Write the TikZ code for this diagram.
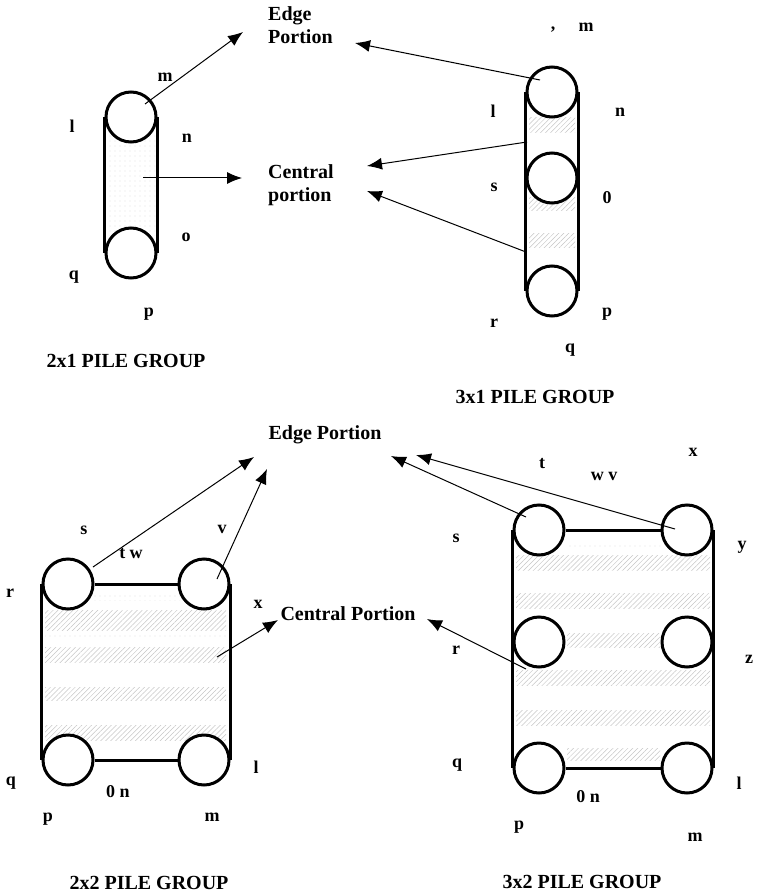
\documentclass[tikz,border=0pt]{standalone}
\usepackage{fontspec}
\setmainfont{Liberation Serif}
\usetikzlibrary{patterns.meta,arrows.meta}

\tikzset{
  pile/.style={circle, draw, line width=3pt, fill=white, minimum size=50pt, inner sep=0pt},
  rail/.style={line width=3pt},
  lbl/.style={font=\fontsize{18}{21}\selectfont\bfseries, inner sep=0pt},
  head/.style={font=\fontsize{20}{23}\selectfont\bfseries, inner sep=0pt},
  headblock/.style={head, align=left, anchor=west},
  hatchband/.style={pattern={Lines[angle=45, distance=3.5pt, line width=0.5pt]}, pattern color=gray!45},
  dotband/.style={pattern={Dots[distance=5pt, radius=0.4pt]}, pattern color=gray!70},
  pointer/.style={line width=1pt, -{Latex[length=15pt, width=12pt]}},
}

\begin{document}
\begin{tikzpicture}[x=1pt, y=-1pt]
      \useasboundingbox (0, 0) rectangle (756, 896);

      % shaded bands
      \fill[dotband] (108, 135) rectangle (155, 235);
      \foreach \ya/\yb in {118/133, 197/210, 233/247}
        \fill[hatchband] (529, \ya) rectangle (575, \yb);
      \foreach \ya/\yb in {610/630, 647/662, 687/700, 725/740}
        \fill[hatchband] (45, \ya) rectangle (226, \yb);
      \fill[dotband] (92, 593) rectangle (180, 600);
      \fill[dotband] (45, 633) rectangle (226, 637);
      \foreach \ya/\yb in {555/570, 593/608, 670/685, 710/725}
        \fill[hatchband] (516, \ya) rectangle (710, \yb);
      \fill[hatchband] (567, 633) rectangle (660, 647);
      \fill[hatchband] (567, 748) rectangle (660, 760);
      \fill[dotband] (567, 543) rectangle (660, 548);

      % 2x1 group
      \node[pile] (a1) at (131, 117) {};
      \node[pile] (a2) at (131, 253) {};
      \draw[rail] (a1.west) -- (a2.west);
      \draw[rail] (a1.east) -- (a2.east);

      % 3x1 group
      \node[pile] (b1) at (552, 92) {};
      \node[pile] (b2) at (552, 178) {};
      \node[pile] (b3) at (552, 291) {};
      \draw[rail] (b1.west) -- (b3.west);
      \draw[rail] (b1.east) -- (b3.east);

      % 2x2 group
      \node[pile] (c1) at (68, 584) {};
      \node[pile] (c2) at (204, 584) {};
      \node[pile] (c3) at (68, 760) {};
      \node[pile] (c4) at (204, 760) {};
      \draw[rail] (c1.west) -- (c3.west);
      \draw[rail] (c2.east) -- (c4.east);
      \draw[rail] (c1) -- (c2);
      \draw[rail] (c3) -- (c4);

      % 3x2 group
      \node[pile] (d1) at (539, 530) {};
      \node[pile] (d2) at (687, 530) {};
      \node[pile] (d3) at (539, 642) {};
      \node[pile] (d4) at (687, 642) {};
      \node[pile] (d5) at (539, 768) {};
      \node[pile] (d6) at (687, 768) {};
      \draw[rail] (d1.west) -- (d5.west);
      \draw[rail] (d2.east) -- (d6.east);
      \draw[rail] (d1) -- (d2);
      \draw[rail] (d5) -- (d6);

      % headings
      \node[headblock] (edge1) at (268, 25) {Edge\\Portion};
      \node[headblock] (central1) at (268, 185) {Central\\portion};
      \node[head] (edge2) at (325, 435) {Edge Portion};
      \node[head] (central2) at (348, 614) {Central Portion};
      \node[head] (title1) at (126, 361) {2x1 PILE GROUP};
      \node[head] (title2) at (535, 397) {3x1 PILE GROUP};
      \node[head] (title3) at (149, 883) {2x2 PILE GROUP};
      \node[head] (title4) at (582, 882) {3x2 PILE GROUP};

      % letters, 2x1
      \node[lbl] (am) at (165, 77) {m};
      \node[lbl] (al) at (72, 126) {l};
      \node[lbl] (an) at (187, 138) {n};
      \node[lbl] (ao) at (186, 237) {o};
      \node[lbl] (aq) at (74, 277) {q};
      \node[lbl] (ap) at (149, 314) {p};

      % letters, 3x1
      \node[lbl] (bc) at (553, 30) {,};
      \node[lbl] (bm) at (586, 27) {m};
      \node[lbl] (bl) at (493, 111) {l};
      \node[lbl] (bn) at (620, 112) {n};
      \node[lbl] (bs) at (494, 187) {s};
      \node[lbl] (bo) at (607, 198) {0};
      \node[lbl] (bp) at (607, 314) {p};
      \node[lbl] (br) at (494, 323) {r};
      \node[lbl] (bq) at (570, 350) {q};

      % letters, 2x2
      \node[lbl] (cs) at (84, 530) {s};
      \node[lbl] (ct) at (131, 554) {t w};
      \node[lbl] (cv) at (222, 529) {v};
      \node[lbl] (cr) at (10, 593) {r};
      \node[lbl] (cx) at (258, 604) {x};
      \node[lbl] (cl) at (256, 767) {l};
      \node[lbl] (cq) at (11, 783) {q};
      \node[lbl] (cn) at (118, 792) {0 n};
      \node[lbl] (cp) at (48, 819) {p};
      \node[lbl] (cm) at (212, 817) {m};

      % letters, 3x2
      \node[lbl] (dt) at (542, 464) {t};
      \node[lbl] (dw) at (604, 476) {w v};
      \node[lbl] (dx) at (693, 452) {x};
      \node[lbl] (ds) at (456, 538) {s};
      \node[lbl] (dy) at (742, 547) {y};
      \node[lbl] (dr) at (456, 650) {r};
      \node[lbl] (dz) at (749, 659) {z};
      \node[lbl] (dq) at (457, 765) {q};
      \node[lbl] (dl) at (739, 783) {l};
      \node[lbl] (dn) at (588, 797) {0 n};
      \node[lbl] (dp) at (519, 827) {p};
      \node[lbl] (dm) at (695, 837) {m};

      % arrow ends
      \coordinate (s1) at (145, 104);
      \coordinate (t1) at (243, 32);
      \coordinate (s2) at (143, 178);
      \coordinate (t2) at (242, 178);
      \coordinate (s3) at (540, 80);
      \coordinate (t3) at (355, 43);
      \coordinate (s4) at (527, 142);
      \coordinate (t4) at (367, 166);
      \coordinate (s5) at (526, 252);
      \coordinate (t5) at (367, 191);
      \coordinate (s6) at (93, 567);
      \coordinate (t6) at (254, 457);
      \coordinate (s7) at (217, 579);
      \coordinate (t7) at (267, 469);
      \coordinate (s8) at (217, 657);
      \coordinate (t8) at (278, 620);
      \coordinate (s9) at (526, 517);
      \coordinate (t9) at (391, 456);
      \coordinate (s10) at (675, 529);
      \coordinate (t10) at (416, 455);
      \coordinate (s11) at (526, 669);
      \coordinate (t11) at (427, 619);

      \foreach \i in {1, ..., 11}
        \path[pointer] (s\i) edge (t\i);
    \end{tikzpicture}
\end{document}
